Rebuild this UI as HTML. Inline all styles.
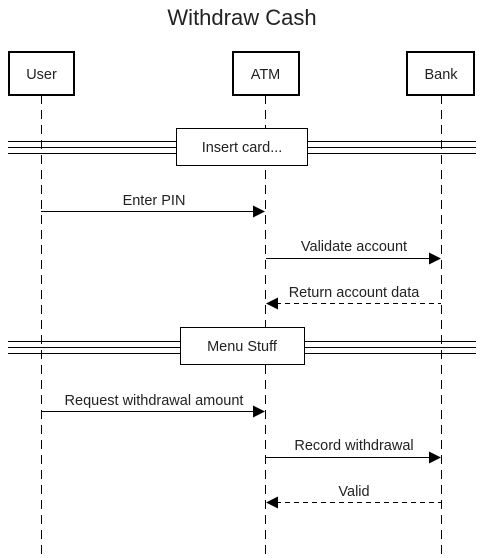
<!DOCTYPE html>
<html><head><meta charset="utf-8"><style>
html,body{margin:0;padding:0;background:#fff;}
svg{display:block;}
text{font-family:"Liberation Sans",Arial,sans-serif;fill:#222;}
</style></head><body>
<svg width="484" height="559" viewBox="0 0 484 559" xmlns="http://www.w3.org/2000/svg">
<text x="242" y="25" font-size="22" text-anchor="middle">Withdraw Cash</text>
<g stroke="#000" stroke-width="1" stroke-dasharray="9,6" fill="none">
<line x1="41.5" y1="95" x2="41.5" y2="559"/>
<line x1="265.5" y1="95" x2="265.5" y2="559"/>
<line x1="441.5" y1="95" x2="441.5" y2="559"/>
</g>
<g fill="#fff" stroke="#000" stroke-width="2">
<rect x="9" y="52" width="65" height="43"/>
<rect x="233" y="52" width="66" height="43"/>
<rect x="407" y="52" width="67" height="43"/>
</g>
<g font-size="14.5" text-anchor="middle">
<text x="41.5" y="79">User</text>
<text x="265.5" y="79">ATM</text>
<text x="441" y="79">Bank</text>
</g>
<g stroke="#000" stroke-width="1">
<line x1="8" y1="141.5" x2="476" y2="141.5"/>
<line x1="8" y1="147.5" x2="476" y2="147.5"/>
<line x1="8" y1="153.5" x2="476" y2="153.5"/>
<line x1="8" y1="341.5" x2="476" y2="341.5"/>
<line x1="8" y1="347.5" x2="476" y2="347.5"/>
<line x1="8" y1="353.5" x2="476" y2="353.5"/>
</g>
<g fill="#fff" stroke="#000" stroke-width="1">
<rect x="176.5" y="128.5" width="131" height="37"/>
<rect x="180.5" y="327.5" width="124" height="37"/>
</g>
<g font-size="14.5" text-anchor="middle">
<text x="242" y="152">Insert card...</text>
<text x="242" y="351">Menu Stuff</text>
</g>
<g stroke="#000" stroke-width="1">
<line x1="41" y1="211.5" x2="255" y2="211.5"/>
<line x1="266" y1="258.5" x2="431" y2="258.5"/>
<line x1="276" y1="303.5" x2="441" y2="303.5" stroke-dasharray="5,4"/>
<line x1="41" y1="411.5" x2="255" y2="411.5"/>
<line x1="266" y1="457.5" x2="431" y2="457.5"/>
<line x1="276" y1="502.5" x2="441" y2="502.5" stroke-dasharray="5,4"/>
</g>
<g fill="#000">
<polygon points="265,211.5 253,205.5 253,217.5"/>
<polygon points="441,258.5 429,252.5 429,264.5"/>
<polygon points="266,303.5 278,297.5 278,309.5"/>
<polygon points="265,411.5 253,405.5 253,417.5"/>
<polygon points="441,457.5 429,451.5 429,463.5"/>
<polygon points="266,502.5 278,496.5 278,508.5"/>
</g>
<g font-size="14.5" text-anchor="middle">
<text x="154" y="205">Enter PIN</text>
<text x="354" y="251">Validate account</text>
<text x="354" y="297">Return account data</text>
<text x="154" y="405">Request withdrawal amount</text>
<text x="354" y="450">Record withdrawal</text>
<text x="354" y="496">Valid</text>
</g>
</svg>
</body></html>
